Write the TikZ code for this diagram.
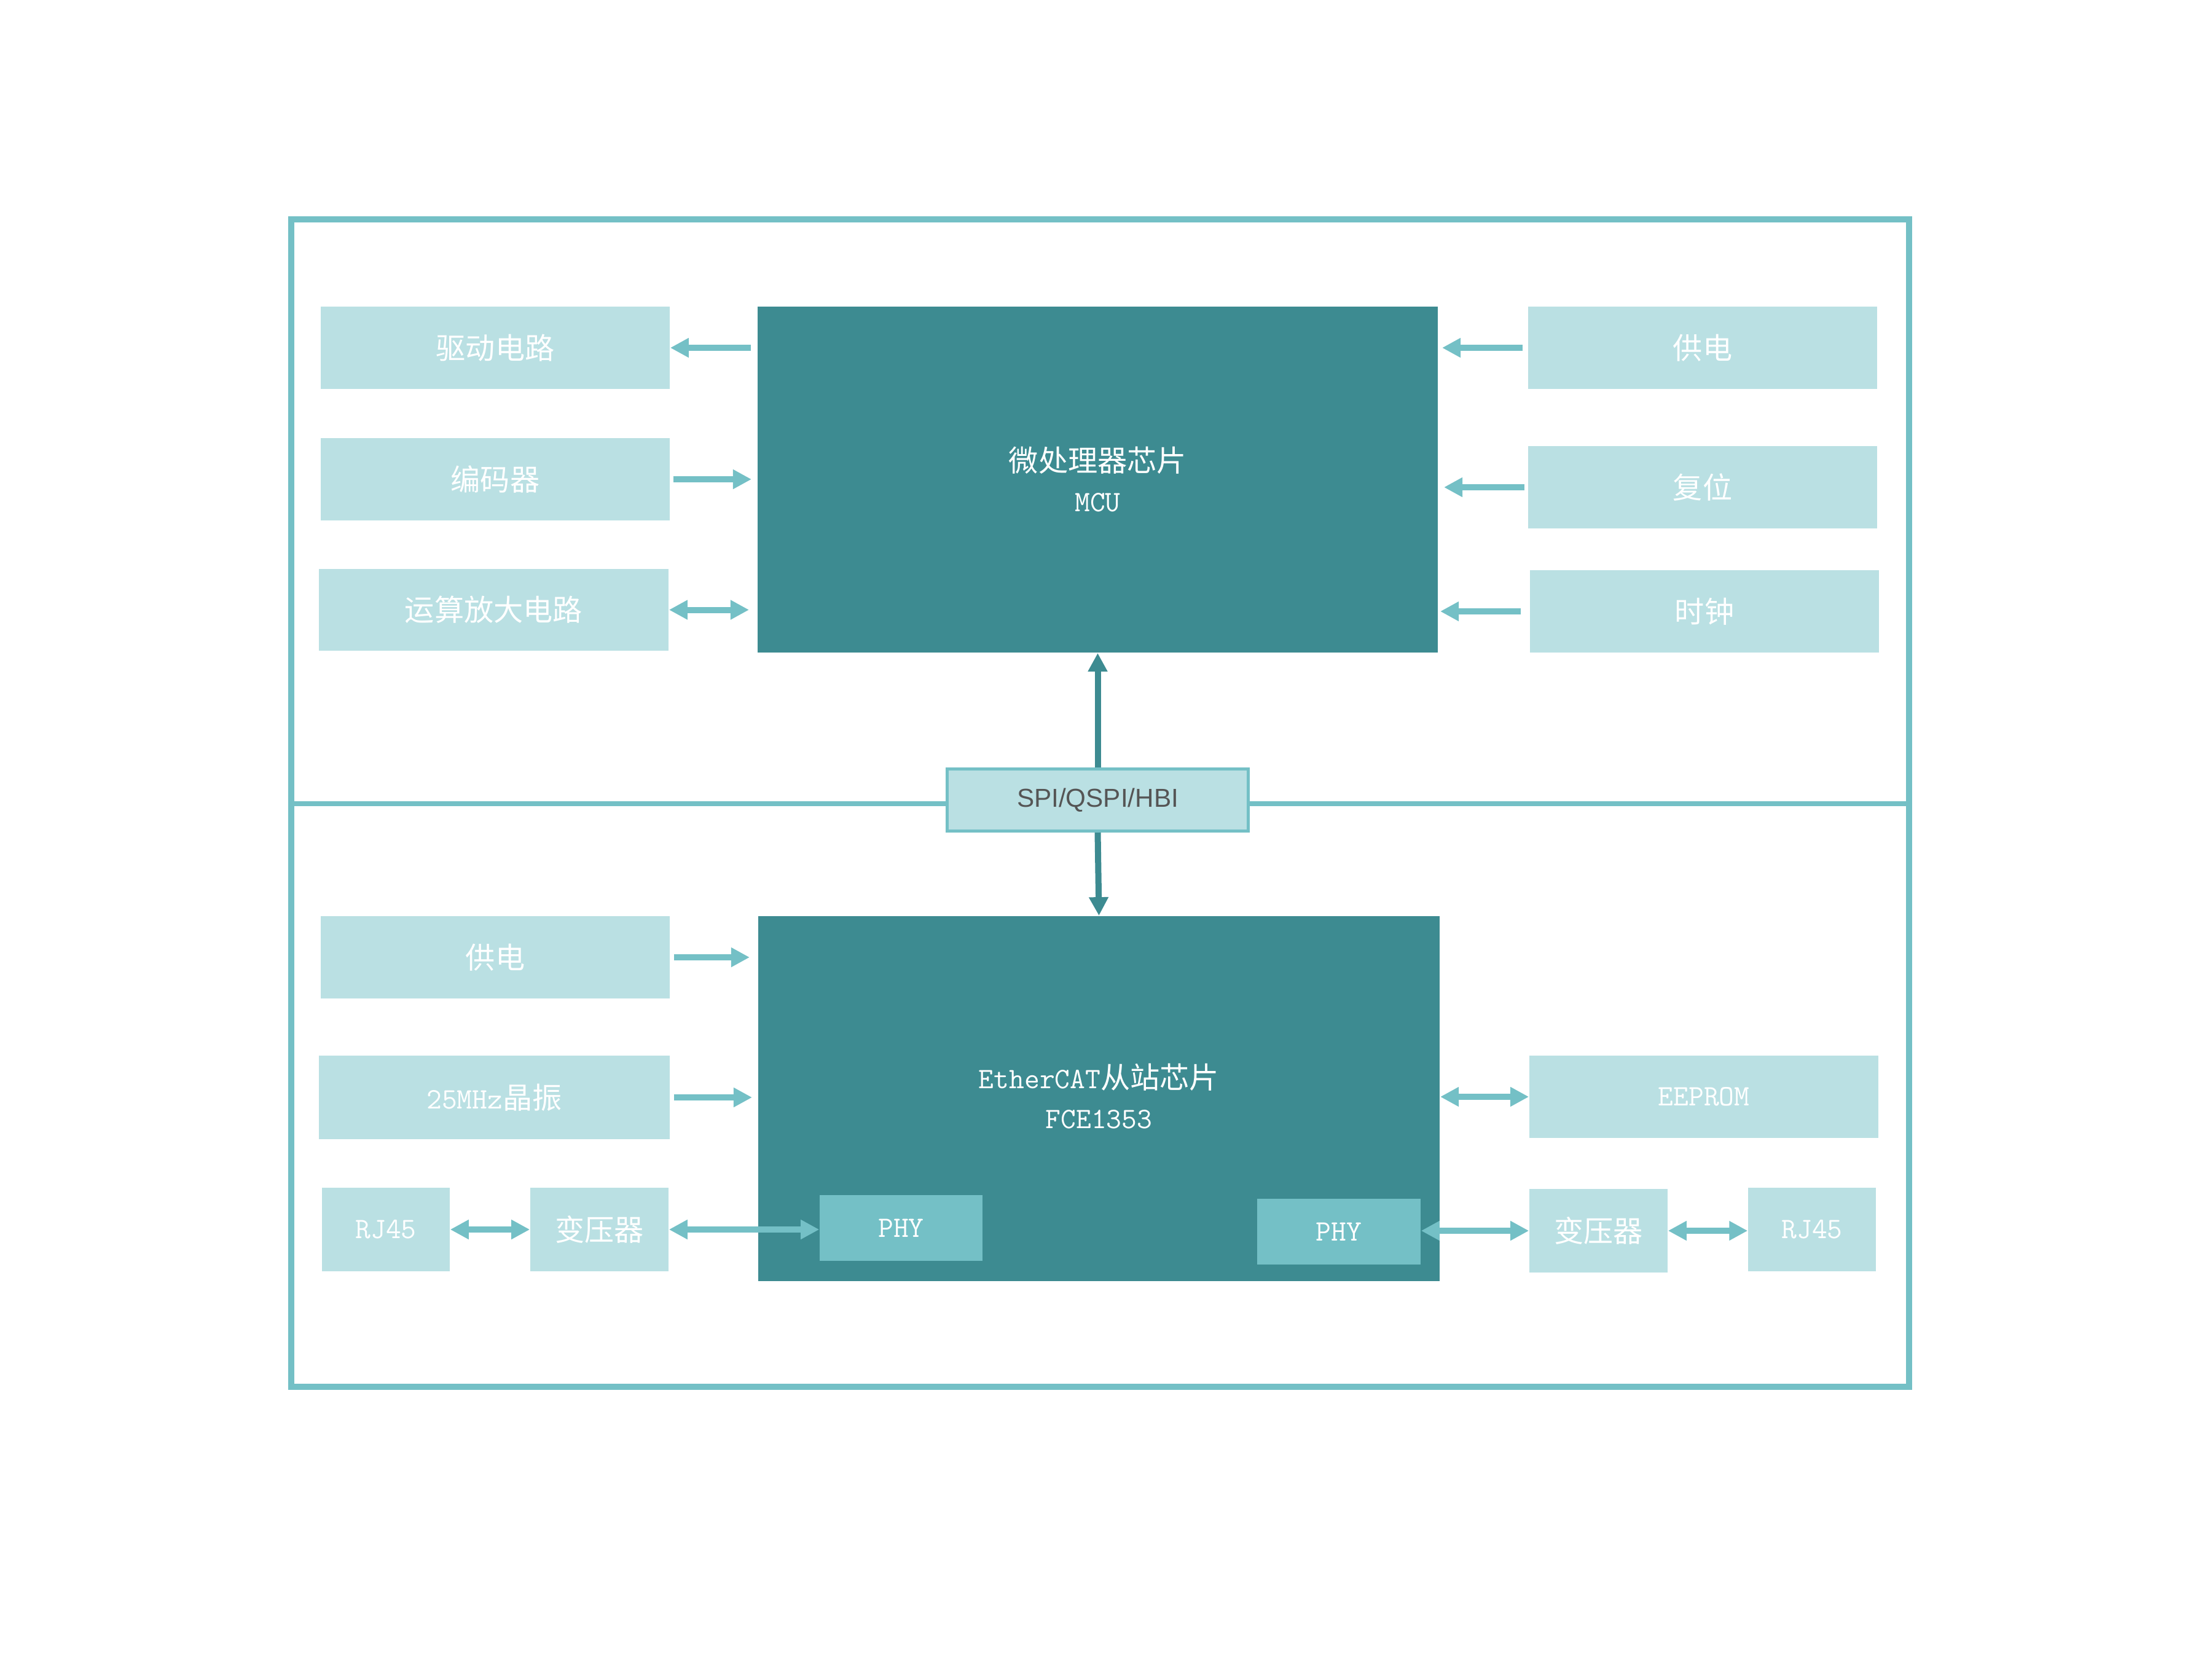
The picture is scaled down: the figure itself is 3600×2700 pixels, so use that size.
\documentclass[tikz,border=0pt]{standalone}
\usepackage{fontspec}
\usetikzlibrary{arrows.meta,calc}
\newfontfamily\cjk{Noto Sans CJK SC}
\newcommand\lat{\ttfamily}
\newfontfamily\sanslat{Liberation Sans}
\definecolor{darkteal}{RGB}{61,139,145}
\definecolor{lightbox}{RGB}{186,224,227}
\definecolor{midteal}{RGB}{116,192,198}
\definecolor{txtgray}{RGB}{85,85,85}
\tikzset{
  side/.style={fill=lightbox, draw=none, inner sep=0pt, text=white,
    font=\fontsize{13.7}{16.5}\selectfont\cjk, align=center},
  chip/.style={fill=darkteal, draw=none, inner sep=0pt, text=white,
    font=\fontsize{13.7}{16.5}\selectfont\cjk, align=center},
  phybox/.style={fill=midteal, draw=none, inner sep=0pt, text=white,
    font=\fontsize{13.7}{16.5}\selectfont\lat},
  arr/.style={line width=0.1cm, color=midteal, -{Triangle[length=0.3cm,width=0.3cm]}},
  darr/.style={line width=0.1cm, color=midteal, {Triangle[length=0.3cm,width=0.3cm]}-{Triangle[length=0.3cm,width=0.3cm]}},
  varr/.style={line width=0.1cm, color=darkteal, -{Triangle[length=0.3cm,width=0.3cm]}}
}
\begin{document}
\begin{tikzpicture}[x=0.01cm,y=-0.01cm]
\useasboundingbox[fill=white] (0,0) rectangle (3600,2700);
% frame and divider
\draw[midteal, line width=0.1cm] (474,357) rectangle (3107,2257);
\coordinate (divl) at (474,1308);
\coordinate (divr) at (3107,1308);
\draw[midteal, line width=0.08cm] (divl) -- (divr);
% upper part
\node[chip, minimum width=11.07cm, minimum height=5.63cm] (mcu) at (1786.5,780.5) {};
\node[text=white, font=\fontsize{13.7}{16.5}\selectfont, align=center] (mcut) at (1786.5,780) {{\cjk 微处理器芯片}\\[2pt]{\lat MCU}};
\node[side, minimum width=5.68cm, minimum height=1.34cm] (drv) at (806,566) {驱动电路};
\node[side, minimum width=5.68cm, minimum height=1.34cm] (enc) at (806,780) {编码器};
\node[side, minimum width=5.69cm, minimum height=1.33cm] (opa) at (803.5,992.5) {运算放大电路};
\node[side, minimum width=5.68cm, minimum height=1.34cm] (psu) at (2771,566) {供电};
\node[side, minimum width=5.68cm, minimum height=1.34cm] (rst) at (2771,793) {复位};
\node[side, minimum width=5.68cm, minimum height=1.34cm] (clk) at (2774,995) {时钟};
% interface
\node[fill=lightbox, draw=midteal, line width=0.05cm, minimum width=4.9cm, minimum height=1.01cm, inner sep=0pt,
  text=txtgray, font=\fontsize{12}{14}\selectfont\sanslat] (spi) at (1786.5,1302) {SPI/QSPI/HBI};
% lower part
\node[chip, minimum width=11.09cm, minimum height=5.94cm] (ecat) at (1788.5,1788) {};
\node[text=white, font=\fontsize{13.7}{16.5}\selectfont, align=center] (ecatt) at (1788.5,1784) {{\lat EtherCAT}{\cjk 从站芯片}\\[2pt]{\lat FCE1353}};
\node[phybox, minimum width=2.65cm, minimum height=1.07cm] (phy1) at (1466.5,1998.5) {PHY};
\node[phybox, minimum width=2.66cm, minimum height=1.07cm] (phy2) at (2179,2004.5) {PHY};
\node[side, minimum width=5.68cm, minimum height=1.34cm] (psu2) at (806,1558) {供电};
\node[side, minimum width=5.71cm, minimum height=1.36cm] (osc) at (804.5,1786) {{\lat 25MHz}晶振};
\node[side, minimum width=2.08cm, minimum height=1.36cm, font=\fontsize{13.7}{16.5}\selectfont\lat] (rj1) at (628,2001) {RJ45};
\node[side, minimum width=2.25cm, minimum height=1.36cm] (tr1) at (975.5,2001) {变压器};
\node[side, minimum width=5.68cm, minimum height=1.34cm, font=\fontsize{13.7}{16.5}\selectfont\lat] (eep) at (2773,1785) {EEPROM};
\node[side, minimum width=2.25cm, minimum height=1.36cm] (tr2) at (2601.5,2003) {变压器};
\node[side, minimum width=2.08cm, minimum height=1.36cm, font=\fontsize{13.7}{16.5}\selectfont\lat] (rj2) at (2949,2001) {RJ45};
% arrows upper
\draw[arr] ($(mcu.west|-drv.east)+(-10,0)$) -- (drv.east);
\draw[arr] ($(enc.east)+(5,0)$) -- ($(mcu.west|-enc.east)+(-9,0)$);
\draw[darr] (opa.east) -- ($(mcu.west|-opa.east)+(-13,0)$);
\draw[arr] ($(psu.west)+(-8,0)$) -- ($(mcu.east|-psu.west)+(6,0)$);
\draw[arr] ($(rst.west)+(-5,0)$) -- ($(mcu.east|-rst.west)+(9,0)$);
\draw[arr] ($(clk.west)+(-14,0)$) -- ($(mcu.east|-clk.west)+(3,0)$);
% bus arrows
\draw[varr] (spi.north) -- (mcu.south);
\draw[varr] (spi.south) -- (ecat.north);
% arrows lower
\draw[arr] ($(psu2.east)+(6,0)$) -- ($(ecat.west|-psu2.east)+(-13,0)$);
\draw[arr] ($(osc.east)+(6,0)$) -- ($(ecat.west|-osc.east)+(-9,0)$);
\draw[darr] (rj1.east) -- (tr1.west);
\draw[darr] (tr1.east) -- (phy1.west|-tr1.east);
\draw[darr] (ecat.east|-eep.west) -- (eep.west);
\draw[darr] (phy2.east|-tr2.west) -- (tr2.west);
\draw[darr] (tr2.east) -- (rj2.west|-tr2.east);
\end{tikzpicture}
\end{document}
